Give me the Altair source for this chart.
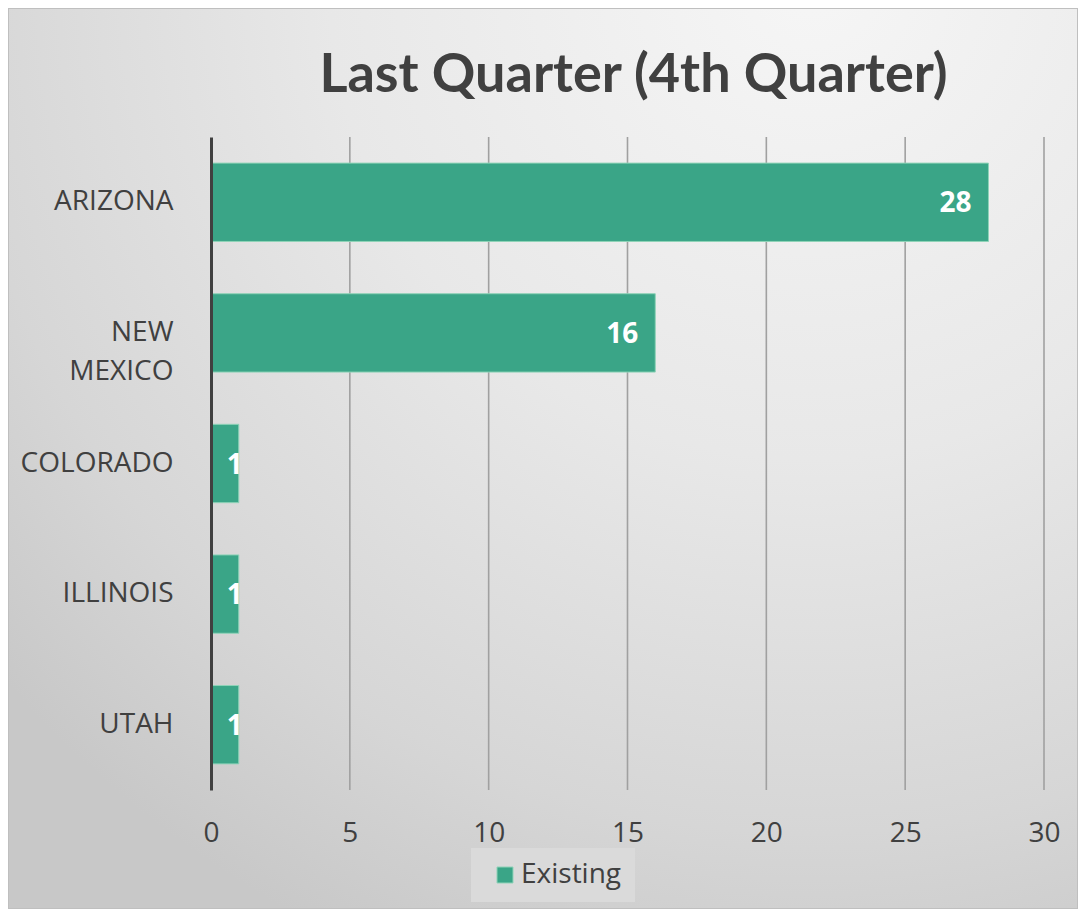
import altair as alt
import pandas as pd

states = ["ARIZONA", "NEW MEXICO", "COLORADO", "ILLINOIS", "UTAH"]
values = [28, 16, 1, 1, 1]
series_name = "Existing"
x_ticks = [0, 5, 10, 15, 20, 25, 30]
title_text = "Last Quarter (4th Quarter)"

df = pd.DataFrame({"state": states, "value": values, "series": [series_name] * len(states)})
grid_df = pd.DataFrame({"tick": x_ticks[1:]})
bg_df = pd.DataFrame({"a": [0]})

W, H = 833, 653
PL, PT, PR, PB = 203, 129, 34, 119

FONT = "Open Sans"
TXT = "#404040"
BAR = "#3aa587"

gradient = {
    "gradient": "radial",
    "x1": 0.75, "y1": 0.05, "r1": 0,
    "x2": 0.75, "y2": 0.05, "r2": 1.0,
    "stops": [
        {"offset": 0.0, "color": "#f6f6f6"},
        {"offset": 0.45, "color": "#e8e8e8"},
        {"offset": 0.8, "color": "#d6d6d6"},
        {"offset": 1.0, "color": "#c8c8c8"},
    ],
}

background = alt.Chart(bg_df).mark_rect(fill=gradient, stroke="#bfbfbf", strokeWidth=2).encode(
    x=alt.value(-PL), x2=alt.value(W + PR), y=alt.value(-PT), y2=alt.value(H + PB)
)

xscale = alt.Scale(domain=[0, 30], nice=False)

grid = alt.Chart(grid_df).mark_rule(color="#a0a0a0", strokeWidth=1.6).encode(
    x=alt.X("tick:Q", scale=xscale), y=alt.value(0), y2=alt.value(H)
)

yenc = alt.Y(
    "state:N",
    sort=states,
    scale=alt.Scale(paddingInner=0.4, paddingOuter=0.2),
    axis=alt.Axis(
        title=None, labelFont=FONT, labelFontSize=28, labelColor=TXT,
        labelPadding=38, ticks=False, domain=True, domainColor=TXT,
        domainWidth=3, labelLineHeight=39, labelExpr="split(datum.label, ' ')",
        zindex=1, grid=False,
    ),
)
xenc = alt.X(
    "value:Q",
    scale=xscale,
    axis=alt.Axis(
        title=None, values=x_ticks, labelFont=FONT, labelFontSize=28,
        labelColor=TXT, labelPadding=29, ticks=False, domain=False,
        grid=False, zindex=1, labelFlush=False,
    ),
)

bars = alt.Chart(df).mark_bar(stroke="#8fd3b8", strokeWidth=1).encode(
    x=xenc,
    y=yenc,
    color=alt.Color(
        "series:N",
        scale=alt.Scale(range=[BAR]),
        legend=alt.Legend(
            title=None, orient="none", legendX=260, legendY=711,
            fillColor="#dadada", padding=13, symbolType="square",
            symbolSize=256, symbolStrokeColor="#8fd3b8", symbolStrokeWidth=1,
            symbolOpacity=1, symbolOffset=7, labelOffset=2,
            labelFont=FONT, labelFontSize=28, labelColor=TXT,
        ),
    ),
)

labels_big = alt.Chart(df).transform_filter("datum.value >= 5").mark_text(
    align="right", baseline="middle", dx=-17, dy=2, color="white",
    font=FONT, fontSize=28, fontWeight="bold",
).encode(x="value:Q", y=alt.Y("state:N", sort=states), text="value:Q")

labels_small = alt.Chart(df).transform_filter("datum.value < 5").mark_text(
    align="center", baseline="middle", dx=-4, dy=2, color="white",
    font=FONT, fontSize=28, fontWeight="bold",
).encode(x="value:Q", y=alt.Y("state:N", sort=states), text="value:Q")

chart = alt.layer(background, grid, bars, labels_big, labels_small).properties(
    width=W, height=H,
    padding={"left": PL, "top": PT, "right": PR, "bottom": PB},
    autosize=alt.AutoSizeParams(type="none"),
    title=alt.Title(
        title_text, font="Lato", fontSize=54,
        fontWeight="bold", color=TXT, anchor="middle", frame="group",
        offset=-139, baseline="alphabetic", dx=6,
    ),
).configure_view(stroke=None).configure(background="white")

chart.save("out.html", embed_options={"renderer": "svg", "actions": False})
